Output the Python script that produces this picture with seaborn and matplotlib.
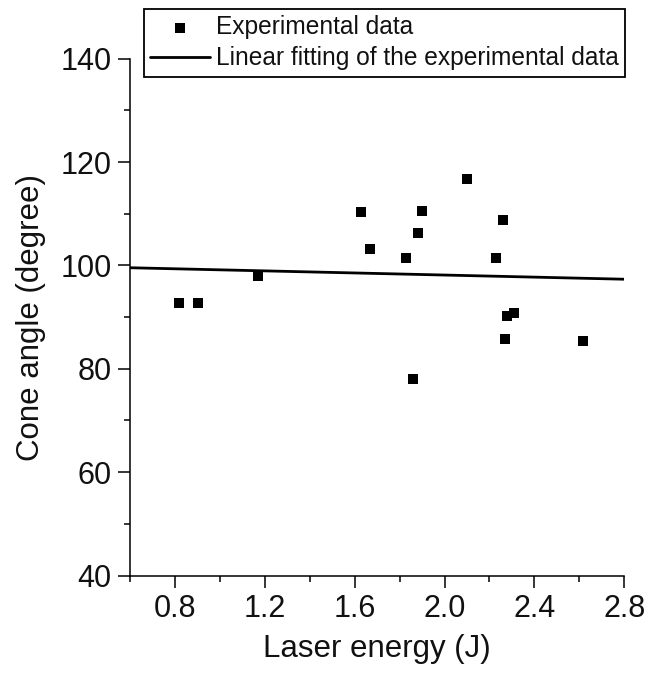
import matplotlib
matplotlib.use("Agg")
import matplotlib.pyplot as plt
import seaborn as sns
import pandas as pd
from matplotlib.ticker import MultipleLocator

# Data
energy = [0.818, 0.902, 1.171, 1.628, 1.668, 1.830, 1.858, 1.880, 1.900,
          2.100, 2.228, 2.260, 2.268, 2.277, 2.310, 2.618]
angle = [92.8, 92.8, 98.0, 110.3, 103.2, 101.5, 78.0, 106.3, 110.6,
         116.7, 101.5, 108.7, 85.7, 90.2, 90.8, 85.4]
fit_x = [0.6, 2.8]
fit_y = [99.55, 97.33]

x_ticks = [0.8, 1.2, 1.6, 2.0, 2.4, 2.8]
y_ticks = [40, 60, 80, 100, 120, 140]

sns.set_style("ticks")
plt.rcParams["font.family"] = ["Liberation Sans", "DejaVu Sans"]
plt.rcParams["text.color"] = "#111111"
plt.rcParams["axes.labelcolor"] = "#111111"

df = pd.DataFrame({"energy": energy, "angle": angle})
fit = pd.DataFrame({"x": fit_x, "y": fit_y})

fig = plt.figure(figsize=(6.59, 6.73), dpi=100)
ax = fig.add_axes([130 / 659, 1 - 575.5 / 673, (624.3 - 130) / 659, (575.5 - 58.7) / 673])

sns.lineplot(data=fit, x="x", y="y", ax=ax, color="black", linewidth=2.0,
             label="Linear fitting of the experimental data", zorder=2)
sns.scatterplot(data=df, x="energy", y="angle", ax=ax, marker="s", s=46,
                color="black", edgecolor="black", linewidth=0,
                label="Experimental data", zorder=3)

ax.set_xlim(0.6, 2.8)
ax.set_ylim(40, 140)
ax.set_xticks(x_ticks)
ax.set_xticklabels([f"{t:.1f}" for t in x_ticks])
ax.set_yticks(y_ticks)
ax.xaxis.set_minor_locator(MultipleLocator(0.2))
ax.yaxis.set_minor_locator(MultipleLocator(10))

for side in ["top", "right"]:
    ax.spines[side].set_visible(False)
for side in ["left", "bottom"]:
    ax.spines[side].set_linewidth(1.1)
    ax.spines[side].set_color("black")

ax.tick_params(axis="both", which="major", direction="out", length=8.8, width=1.1,
               labelsize=22, colors="black", labelcolor="#111111", pad=4.5)
ax.tick_params(axis="both", which="minor", direction="out", length=4.5, width=1.1,
               colors="black")

ax.set_xlabel("Laser energy (J)", fontsize=22.5, labelpad=7)
ax.set_ylabel("Cone angle (degree)", fontsize=22.5, labelpad=10)

handles, labels = ax.get_legend_handles_labels()
order = [labels.index("Experimental data"),
         labels.index("Linear fitting of the experimental data")]
leg = ax.legend([handles[i] for i in order], [labels[i] for i in order],
                loc="upper left", bbox_to_anchor=(144 / 659, 1 - 9 / 673),
                bbox_transform=fig.transFigure, fontsize=17.65, frameon=True,
                fancybox=False, edgecolor="black", handlelength=2.45,
                handletextpad=0.25, borderpad=0.25, labelspacing=0.3,
                borderaxespad=0)
leg.get_frame().set_linewidth(1.3)
leg.get_frame().set_alpha(1)

fig.savefig("out.png", dpi=100, facecolor="white")
